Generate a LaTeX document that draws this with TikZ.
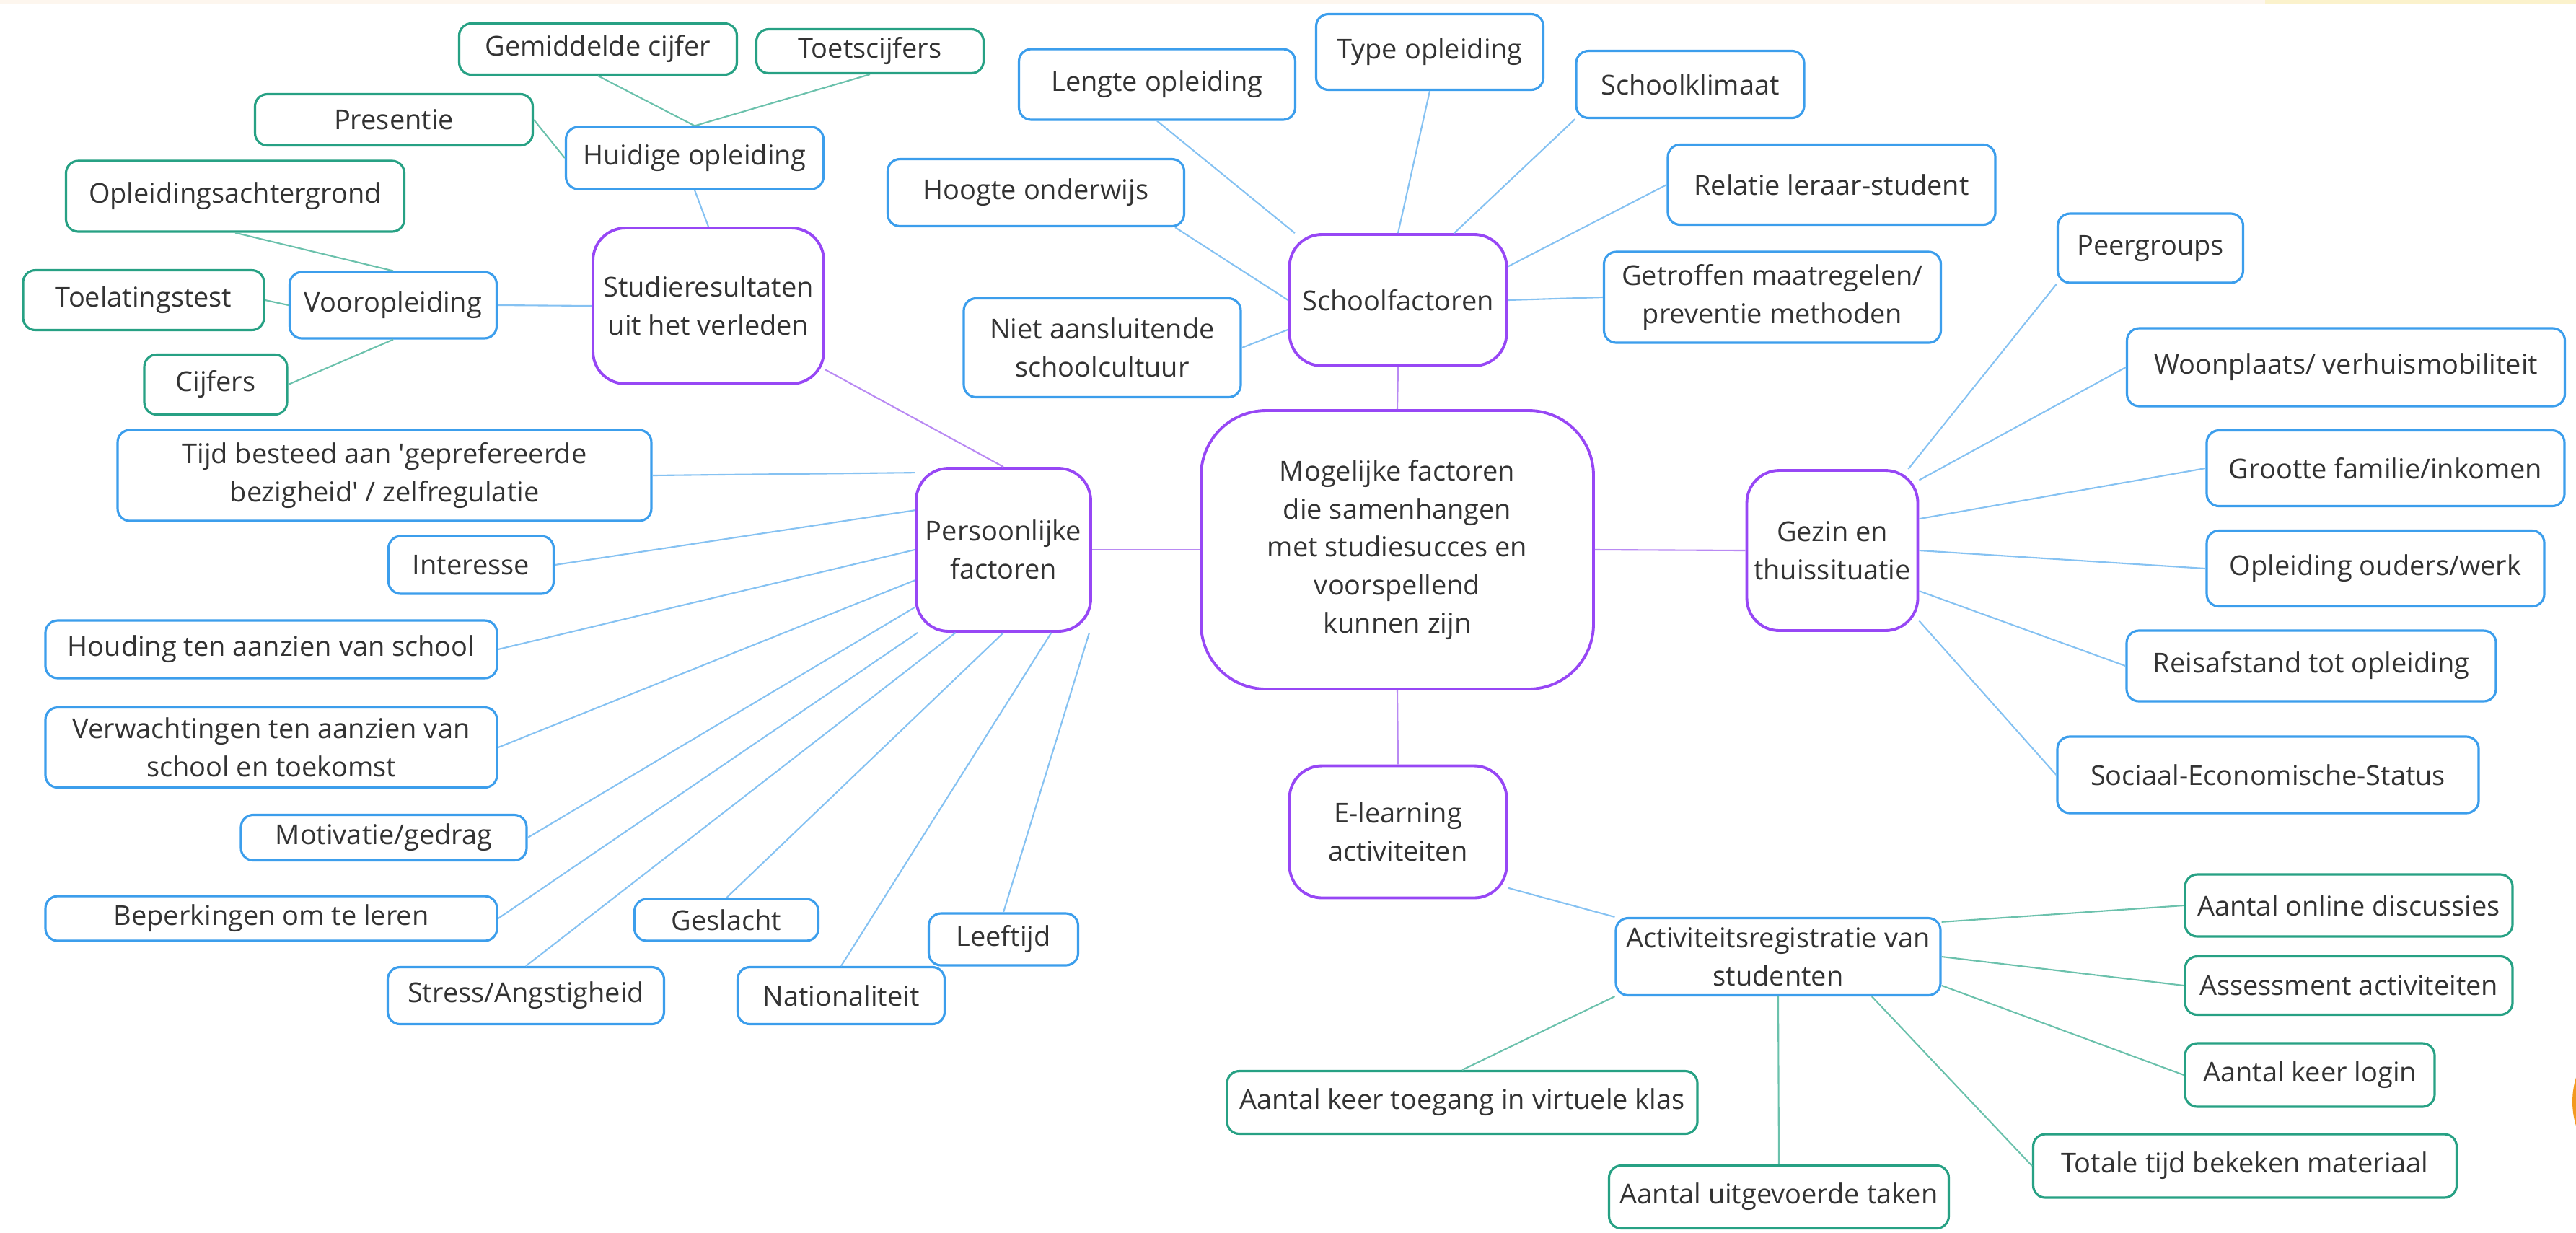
\documentclass[tikz,border=0pt]{standalone}
\usepackage{fontspec}
\setmainfont{Open Sans}
\usepackage{tikz}
\definecolor{purpleb}{HTML}{9747F5}
\definecolor{purplel}{HTML}{B98AF3}
\definecolor{blueb}{HTML}{3C9EEC}
\definecolor{bluel}{HTML}{86C2F2}
\definecolor{greenb}{HTML}{27A184}
\definecolor{greenl}{HTML}{6BC1AC}
\definecolor{textc}{HTML}{333333}
\definecolor{peach}{HTML}{FDF6EE}
\definecolor{pale}{HTML}{FBF2CC}
\definecolor{blob}{HTML}{F29A1F}
\tikzset{
  wh/.style 2 args={minimum width=#1cm, minimum height=#2cm},
  hubbox/.style={draw=purpleb, fill=white, line width=1.1pt, rounded corners=0.45cm,
    align=center, text=textc, inner sep=1pt, font=\fontsize{10.8}{15}\selectfont},
  subbox/.style={draw=blueb, fill=white, line width=0.9pt, rounded corners=0.17cm,
    align=center, text=textc, inner sep=1pt, font=\fontsize{10.8}{15}\selectfont},
  leafbox/.style={subbox, draw=greenb},
  plink/.style={draw=purplel, line width=0.6pt},
  blink/.style={draw=bluel, line width=0.6pt},
  glink/.style={draw=greenl, line width=0.6pt}
}

\begin{document}
\begin{tikzpicture}
\useasboundingbox (0,0) rectangle (35.71,-17.08);
\fill [peach] (0,0) rectangle (31.4,-0.06);
\fill [pale] (31.4,0) rectangle (35.71,-0.06);
\fill [blob] (36.81,-15.27) circle [radius=1.15];

% main branches
\node [hubbox, rounded corners=0.9cm, wh={5.44}{3.86}] (cent) at (19.37,-7.62) {Mogelijke factoren\\die samenhangen\\met studiesucces en\\voorspellend\\kunnen zijn};
\node [hubbox, wh={3.01}{1.82}] (school) at (19.38,-4.16) {Schoolfactoren};
\node [hubbox, wh={2.42}{2.26}] (pers) at (13.91,-7.62) {Persoonlijke\\factoren};
\node [hubbox, wh={2.37}{2.22}] (gezin) at (25.40,-7.63) {Gezin en\\thuissituatie};
\node [hubbox, wh={3.01}{1.83}] (elearn) at (19.38,-11.53) {E-learning\\activiteiten};
\node [hubbox, wh={3.20}{2.16}] (stud) at (9.82,-4.24) {Studieresultaten\\uit het verleden};

% school
\node [subbox, wh={3.83}{0.98}] (leng) at (16.04,-1.17) {Lengte opleiding};
\node [subbox, wh={3.15}{1.05}] (type) at (19.82,-0.72) {Type opleiding};
\node [subbox, wh={3.16}{0.93}] (klim) at (23.43,-1.17) {Schoolklimaat};
\node [subbox, wh={4.11}{0.93}] (hoog) at (14.36,-2.67) {Hoogte onderwijs};
\node [subbox, wh={4.54}{1.11}] (rel) at (25.39,-2.56) {Relatie leraar-student};
\node [subbox, wh={4.67}{1.26}] (getr) at (24.57,-4.12) {Getroffen maatregelen/\\preventie methoden};
\node [subbox, wh={3.84}{1.37}] (niet) at (15.28,-4.82) {Niet aansluitende\\schoolcultuur};

% studieresultaten
\node [subbox, wh={3.57}{0.86}] (huid) at (9.63,-2.19) {Huidige opleiding};
\node [subbox, wh={2.87}{0.92}] (voor) at (5.45,-4.23) {Vooropleiding};
\node [leafbox, wh={3.85}{0.71}] (gem) at (8.29,-0.68) {Gemiddelde cijfer};
\node [leafbox, wh={3.15}{0.61}] (toets) at (12.06,-0.71) {Toetscijfers};
\node [leafbox, wh={3.85}{0.71}] (pres) at (5.46,-1.66) {Presentie};
\node [leafbox, wh={4.69}{0.98}] (opl) at (3.26,-2.72) {Opleidingsachtergrond};
\node [leafbox, wh={3.34}{0.83}] (toel) at (1.99,-4.16) {Toelatingstest};
\node [leafbox, wh={1.98}{0.83}] (cijf) at (2.99,-5.33) {Cijfers};

% persoonlijk
\node [subbox, wh={7.40}{1.26}] (tijd) at (5.33,-6.59) {Tijd besteed aan {\textquotesingle}geprefereerde\\bezigheid{\textquotesingle} / zelfregulatie};
\node [subbox, wh={2.29}{0.80}] (int) at (6.53,-7.83) {Interesse};
\node [subbox, wh={6.26}{0.80}] (hou) at (3.76,-9.00) {Houding ten aanzien van school};
\node [subbox, wh={6.26}{1.11}] (verw) at (3.76,-10.36) {Verwachtingen ten aanzien van\\school en toekomst};
\node [subbox, wh={3.96}{0.63}] (mot) at (5.32,-11.61) {Motivatie/gedrag};
\node [subbox, wh={6.26}{0.62}] (bep) at (3.76,-12.73) {Beperkingen om te leren};
\node [subbox, wh={2.55}{0.58}] (gesl) at (10.07,-12.75) {Geslacht};
\node [subbox, wh={2.07}{0.72}] (leef) at (13.91,-13.02) {Leeftijd};
\node [subbox, wh={3.83}{0.79}] (stress) at (7.29,-13.80) {Stress/Angstigheid};
\node [subbox, wh={2.87}{0.79}] (nat) at (11.66,-13.80) {Nationaliteit};

% gezin
\node [subbox, wh={2.57}{0.96}] (peer) at (29.81,-3.44) {Peergroups};
\node [subbox, wh={6.07}{1.08}] (woon) at (32.52,-5.09) {Woonplaats/ verhuismobiliteit};
\node [subbox, wh={4.96}{1.05}] (groot) at (33.07,-6.49) {Grootte familie/inkomen};
\node [subbox, wh={4.68}{1.05}] (oud) at (32.93,-7.88) {Opleiding ouders/werk};
\node [subbox, wh={5.12}{0.98}] (reis) at (32.04,-9.23) {Reisafstand tot opleiding};
\node [subbox, wh={5.84}{1.06}] (soc) at (31.44,-10.74) {Sociaal-Economische-Status};

% e-learning
\node [subbox, wh={4.50}{1.07}] (act) at (24.65,-13.26) {Activiteitsregistratie van\\studenten};
\node [leafbox, wh={4.54}{0.86}] (onl) at (32.56,-12.55) {Aantal online discussies};
\node [leafbox, wh={4.54}{0.81}] (ass) at (32.56,-13.66) {Assessment activiteiten};
\node [leafbox, wh={3.46}{0.88}] (login) at (32.02,-14.90) {Aantal keer login};
\node [leafbox, wh={5.87}{0.88}] (tot) at (31.12,-16.16) {Totale tijd bekeken materiaal};
\node [leafbox, wh={4.71}{0.87}] (uit) at (24.66,-16.59) {Aantal uitgevoerde taken};
\node [leafbox, wh={6.52}{0.87}] (toeg) at (20.27,-15.28) {Aantal keer toegang in virtuele klas};

% links
\draw [plink] (cent.north) -- (school.south);
\draw [plink] (cent.west) -- (pers.east);
\draw [plink] (cent.east) -- (gezin.west);
\draw [plink] (cent.south) -- (elearn.north);
\draw [plink] (stud) -- (pers.north);

\draw [blink] (leng.south) -- (school.147);
\draw [blink] (type.south) -- (school.north);
\draw [blink] (klim.south west) -- (school.50);
\draw [blink] (hoog.-14) -- (school.west);
\draw [blink] (rel.west) -- (school.17);
\draw [blink] (getr.west) -- (school.east);
\draw [blink] (niet.east) -- (school.195);
\draw [blink] (huid.south) -- (stud.north);
\draw [blink] (voor.east) -- (stud.west);

\draw [blink] (tijd.east) -- (pers.139);
\draw [blink] (int.east) -- (pers.156);
\draw [blink] (hou.east) -- (pers.west);
\draw [blink] (verw.east) -- (pers.199);
\draw [blink] (mot.east) -- (pers.213);
\draw [blink] (bep.east) -- (pers.224);
\draw [blink] (stress.north) -- (pers.240);
\draw [blink] (gesl.north) -- (pers.south);
\draw [blink] (nat.north) -- (pers.300);
\draw [blink] (leef.north) -- (pers.316);

\draw [blink] (peer.south west) -- (gezin.47);
\draw [blink] (woon.west) -- (gezin.39);
\draw [blink] (groot.west) -- (gezin.20);
\draw [blink] (oud.west) -- (gezin.east);
\draw [blink] (reis.west) -- (gezin.-25);
\draw [blink] (soc.west) -- (gezin.-39);
\draw [blink] (elearn.-27) -- (act.north west);

\draw [glink] (gem.south) -- (huid.north);
\draw [glink] (toets.south) -- (huid.north);
\draw [glink] (pres.east) -- (huid.west);
\draw [glink] (opl.south) -- (voor.north);
\draw [glink] (toel.east) -- (voor.west);
\draw [glink] (cijf.east) -- (voor.south);
\draw [glink] (act.12) -- (onl.west);
\draw [glink] (act.east) -- (ass.west);
\draw [glink] (act.-10) -- (login.west);
\draw [glink] (act.-23) -- (tot.west);
\draw [glink] (act.south) -- (uit.north);
\draw [glink] (act.south west) -- (toeg.north);
\end{tikzpicture}
\end{document}
